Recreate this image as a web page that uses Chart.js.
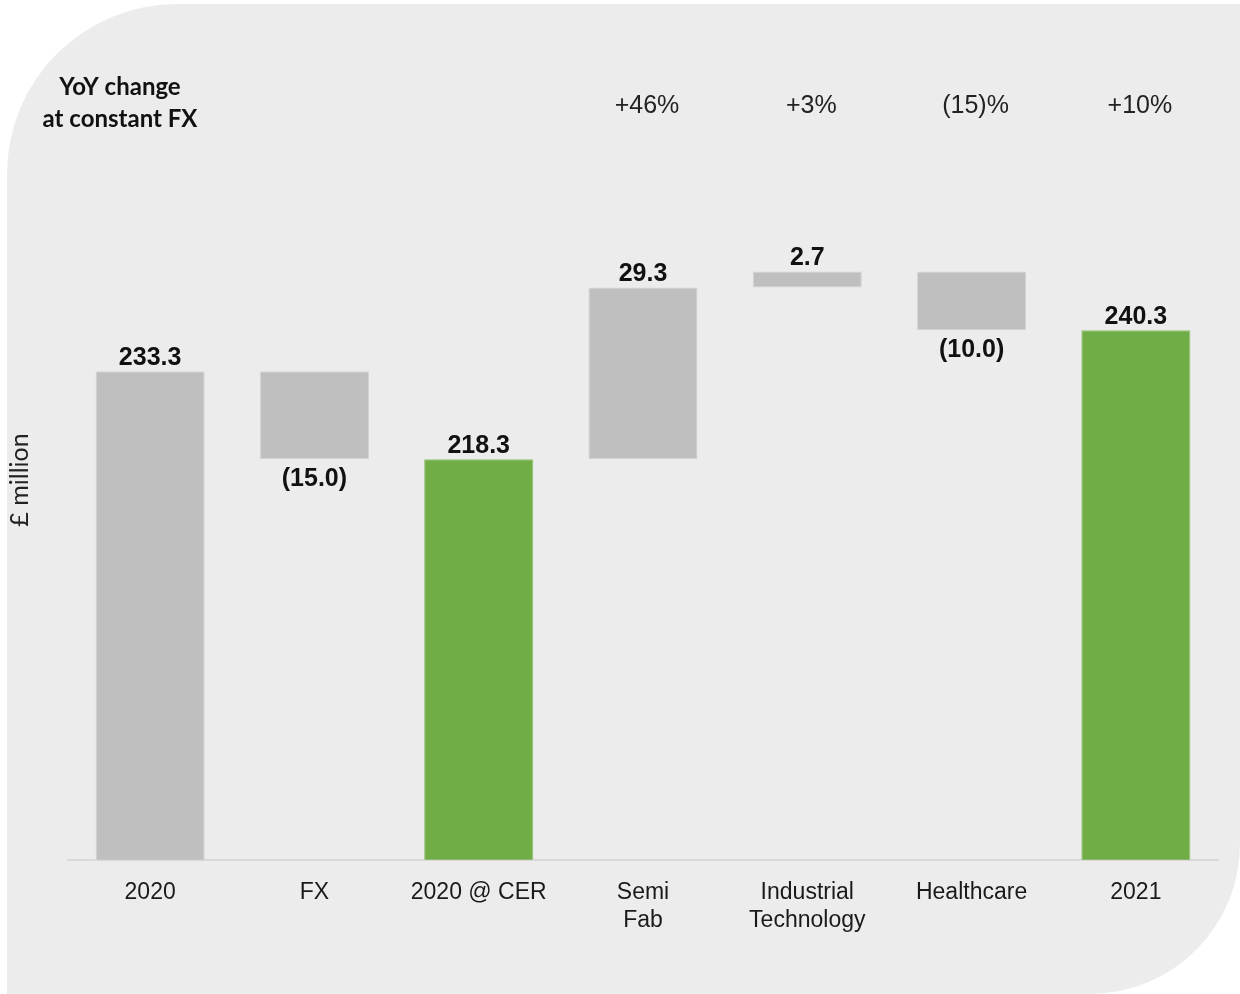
<!DOCTYPE html>
<html>
<head>
<meta charset="utf-8">
<script src="https://cdn.jsdelivr.net/npm/chart.js@4/dist/chart.umd.min.js"></script>
<style>
    html, body { margin: 0; padding: 0; background: #ffffff; }
    body { width: 1240px; height: 994px; position: relative; overflow: hidden; }
    #panel {
        position: absolute; left: 7px; top: 4px; width: 1233px; height: 990px;
        background: #ececec;
        border-radius: 170px 0 150px 0;
    }
    #wrap { position: absolute; left: 0; top: 0; width: 1240px; height: 994px; }
</style>
</head>
<body>
<div id="panel"></div>
<div id="wrap"><canvas id="bridgeChart"></canvas></div>
<script>
// Revenue bridge data (£ million)
const categories = ['2020', 'FX', '2020 @ CER', ['Semi', 'Fab'], ['Industrial', 'Technology'], 'Healthcare', '2021'];
const values = [233.3, -15.0, 218.3, 29.3, 2.7, -10.0, 240.3];
const isTotal = [true, false, true, false, false, false, true];
const isHighlight = [false, false, true, false, false, false, true];
const yoyLabels = ['', '', '', '+46%', '+3%', '(15)%', '+10%'];

const axisMin = 150;
const axisMax = 270;

// Build floating ranges from the running total
let running = 0;
const ranges = values.map((v, i) => {
    if (isTotal[i]) {
        running = v;
        return [0, v];
    }
    const start = running;
    running = running + v;
    return [start, running];
});

const barColors = isHighlight.map(t => t ? '#70ad47' : '#bfbfbf');
const borderColors = isHighlight.map(t => t ? '#8fc16d' : '#d4d4d4');

function fmt(v) {
    return v < 0 ? '(' + Math.abs(v).toFixed(1) + ')' : v.toFixed(1);
}

// Draws value labels, YoY row and side captions
const labelPlugin = {
    id: 'bridgeLabels',
    afterDatasetsDraw(chart) {
        const ctx = chart.ctx;
        const x = chart.scales.x;
        const y = chart.scales.y;
        ctx.save();
        ctx.textAlign = 'center';
        ctx.textBaseline = 'middle';

        // value labels
        ctx.font = 'bold 25px "Liberation Sans", Arial, sans-serif';
        ctx.fillStyle = '#111111';
        values.forEach((v, i) => {
            const px = x.getPixelForValue(i);
            const r = ranges[i];
            if (v < 0) {
                ctx.fillText(fmt(v), px, y.getPixelForValue(Math.min(r[0], r[1])) + 20);
            } else {
                ctx.fillText(fmt(v), px, y.getPixelForValue(Math.max(r[0], r[1])) - 13);
            }
        });

        // YoY row
        ctx.font = '25px "Liberation Sans", Arial, sans-serif';
        ctx.fillStyle = '#222222';
        yoyLabels.forEach((t, i) => {
            if (t) ctx.fillText(t, x.getPixelForValue(i) + 4, 106);
        });

        // YoY caption
        ctx.font = 'bold 24px Lato, "Open Sans", sans-serif';
        ctx.fillStyle = '#111111';
        ctx.fillText('YoY change', 120, 87);
        ctx.fillText('at constant FX', 120, 119);

        // axis caption
        ctx.translate(20, 480);
        ctx.rotate(-Math.PI / 2);
        ctx.font = '25px Lato, "Open Sans", sans-serif';
        ctx.fillStyle = '#222222';
        ctx.fillText('£ million', 0, 0);
        ctx.restore();
    }
};

function initChart() {
    const canvas = document.getElementById('bridgeChart');
    new Chart(canvas, {
        type: 'bar',
        data: {
            labels: categories,
            datasets: [{
                data: ranges,
                backgroundColor: barColors,
                borderColor: borderColors,
                borderWidth: 1,
                borderSkipped: false,
                barPercentage: 0.664,
                categoryPercentage: 1.0
            }]
        },
        options: {
            responsive: true,
            maintainAspectRatio: false,
            animation: false,
            layout: {
                padding: { top: 156, left: 68, right: 22, bottom: 49 }
            },
            plugins: {
                legend: { display: false },
                tooltip: { enabled: false }
            },
            scales: {
                y: {
                    display: false,
                    min: axisMin,
                    max: axisMax
                },
                x: {
                    grid: { display: false },
                    border: { display: true, color: '#d9d9d9', width: 2 },
                    ticks: {
                        color: '#1a1a1a',
                        padding: 11,
                        maxRotation: 0,
                        autoSkip: false,
                        font: { family: '"Liberation Sans", Arial, sans-serif', size: 23, lineHeight: 1.2 }
                    }
                }
            }
        },
        plugins: [labelPlugin]
    });
}

if (document.readyState === 'loading') {
    document.addEventListener('DOMContentLoaded', initChart);
} else {
    initChart();
}
</script>
</body>
</html>
